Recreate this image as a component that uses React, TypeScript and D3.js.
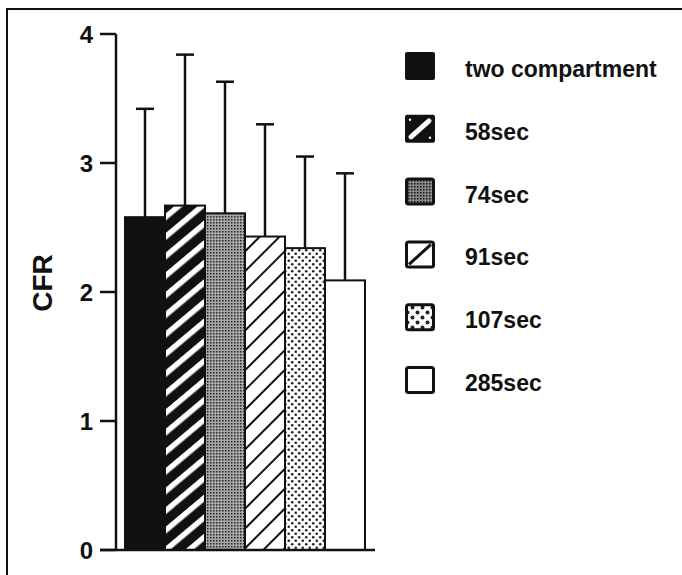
import React from "react";
import * as d3 from "d3";

const categories = ["two compartment", "58sec", "74sec", "91sec", "107sec", "285sec"];
const means = [2.58, 2.67, 2.61, 2.43, 2.34, 2.09];
const errTops = [3.42, 3.84, 3.63, 3.30, 3.05, 2.92];
const yTicks = [0, 1, 2, 3, 4];
const fills = ["#111", "url(#stripeW)", "url(#stipple)", "url(#stripeB)", "url(#dots)", "#fff"];

const W = 682;
const H = 575;

export default function App() {
  const y = d3.scaleLinear().domain([0, 4]).range([550, 34]);
  const x = d3.scaleBand<string>().domain(categories).range([125, 365]).padding(0);
  const bw = x.bandwidth();
  const font = "'Liberation Sans', Arial, sans-serif";

  return (
    <svg width={W} height={H} style={{ position: "absolute", left: 0, top: 0, background: "#fff" }}>
      <defs>
        <pattern id="stripeW" width={15} height={15} patternUnits="userSpaceOnUse" patternTransform="rotate(50)">
          <rect width={15} height={15} fill="#111" />
          <rect x={0} y={0} width={5.5} height={15} fill="#fff" />
        </pattern>
        <pattern id="stripeB" width={14} height={14} patternUnits="userSpaceOnUse" patternTransform="rotate(45)">
          <rect width={14} height={14} fill="#fff" />
          <rect x={0} y={0} width={2} height={14} fill="#111" />
        </pattern>
        <pattern id="stipple" width={3} height={3} patternUnits="userSpaceOnUse">
          <rect width={3} height={3} fill="#a8a8a8" />
          <rect x={0} y={0} width={1.5} height={1.5} fill="#222" />
        </pattern>
        <pattern id="stippleL" width={3} height={3} patternUnits="userSpaceOnUse">
          <rect width={3} height={3} fill="#888" />
          <rect x={0} y={0} width={1.5} height={1.5} fill="#111" />
        </pattern>
        <pattern id="dots" width={7} height={7} patternUnits="userSpaceOnUse">
          <rect width={7} height={7} fill="#fff" />
          <circle cx={1.75} cy={1.75} r={1.3} fill="#222" />
          <circle cx={5.25} cy={5.25} r={1.3} fill="#222" />
        </pattern>
        <pattern id="dotsL" width={10} height={10} patternUnits="userSpaceOnUse" x={405} y={0}>
          <rect width={10} height={10} fill="#fff" />
          <circle cx={2.5} cy={2.5} r={2} fill="#222" />
          <circle cx={7.5} cy={7.5} r={2} fill="#222" />
        </pattern>
      </defs>

      {/* frame */}
      <rect x={7} y={9} width={700} height={600} fill="none" stroke="#111" strokeWidth={2} />

      {/* bars */}
      {categories.map((c, i) => (
        <rect
          key={c}
          x={x(c)!}
          y={y(means[i])}
          width={bw}
          height={y(0) - y(means[i])}
          fill={fills[i]}
          stroke="#111"
          strokeWidth={2}
        />
      ))}

      {/* error bars */}
      {categories.map((c, i) => {
        const cx = x(c)! + bw / 2;
        return (
          <g key={"e" + c} stroke="#111" strokeWidth={2.5}>
            <line x1={cx} x2={cx} y1={y(means[i])} y2={y(errTops[i])} />
            <line x1={cx - 9} x2={cx + 9} y1={y(errTops[i])} y2={y(errTops[i])} />
          </g>
        );
      })}

      {/* axes */}
      <line x1={116} x2={116} y1={y(4)} y2={y(0)} stroke="#111" strokeWidth={2.5} />
      <line x1={100} x2={375} y1={y(0)} y2={y(0)} stroke="#111" strokeWidth={2.5} />
      {yTicks.map((t) => (
        <g key={t}>
          <line x1={100} x2={116} y1={y(t)} y2={y(t)} stroke="#111" strokeWidth={2.5} />
          <text
            x={93}
            y={y(t)}
            dy="0.36em"
            textAnchor="end"
            fontFamily={font}
            fontWeight="bold"
            fontSize={24}
            fill="#111"
          >
            {t}
          </text>
        </g>
      ))}
      <text
        transform="translate(52,283) rotate(-90)"
        textAnchor="middle"
        fontFamily={font}
        fontWeight="bold"
        fontSize={28}
        fill="#111"
      >
        CFR
      </text>

      {/* legend */}
      {categories.map((c, i) => {
        const top = 52 + i * 62.8;
        const sx = 405;
        const sw = 30;
        const sh = 28;
        let sw_el: React.ReactNode;
        if (i === 0) {
          sw_el = <rect x={sx} y={top} width={sw} height={sh} rx={2} fill="#111" />;
        } else if (i === 1) {
          sw_el = (
            <g>
              <rect x={sx} y={top} width={sw} height={sh} rx={2} fill="#111" />
              <line x1={sx + 6} y1={top + sh - 6} x2={sx + sw - 6} y2={top + 6} stroke="#fff" strokeWidth={5} strokeLinecap="round" />
              <circle cx={sx + 5} cy={top + 5} r={1.2} fill="#fff" />
              <circle cx={sx + sw - 5} cy={top + sh - 5} r={1.2} fill="#fff" />
            </g>
          );
        } else if (i === 2) {
          sw_el = <rect x={sx + 1.5} y={top + 1.5} width={sw - 3} height={sh - 3} rx={2} fill="url(#stippleL)" stroke="#111" strokeWidth={3} />;
        } else if (i === 3) {
          sw_el = (
            <g>
              <rect x={sx + 1.5} y={top + 1.5} width={sw - 3} height={sh - 3} rx={2} fill="#fff" stroke="#111" strokeWidth={3} />
              <line x1={sx + 4} y1={top + sh - 4} x2={sx + sw - 4} y2={top + 4} stroke="#111" strokeWidth={3} />
            </g>
          );
        } else if (i === 4) {
          sw_el = <rect x={sx + 1.5} y={top + 1.5} width={sw - 3} height={sh - 3} rx={2} fill="url(#dotsL)" stroke="#111" strokeWidth={3} />;
        } else {
          sw_el = <rect x={sx + 1.5} y={top + 1.5} width={sw - 3} height={sh - 3} rx={2} fill="#fff" stroke="#111" strokeWidth={3} />;
        }
        return (
          <g key={"l" + c}>
            {sw_el}
            <text x={465} y={top + 25} fontFamily={font} fontWeight="bold" fontSize={23} fill="#111">
              {c}
            </text>
          </g>
        );
      })}
    </svg>
  );
}
